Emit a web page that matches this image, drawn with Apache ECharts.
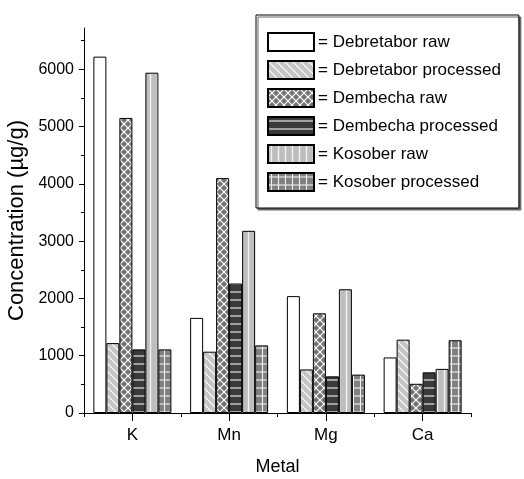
<!DOCTYPE html>
<html>
<head>
<meta charset="utf-8">
<script src="https://cdn.jsdelivr.net/npm/echarts@6/dist/echarts.min.js"></script>
<style>
html,body{margin:0;padding:0;background:#fff;}
#chart{width:524px;height:479px;}
</style>
</head>
<body>
<div id="chart"></div>
<script>
const categories = ['K', 'Mn', 'Mg', 'Ca'];
const seriesNames = ['Debretabor raw', 'Debretabor processed', 'Dembecha raw', 'Dembecha processed', 'Kosober raw', 'Kosober processed'];
const debretaborRaw = [6220, 1660, 2040, 970];
const debretaborProcessed = [1220, 1070, 760, 1280];
const dembechaRaw = [5150, 4100, 1740, 510];
const dembechaProcessed = [1110, 2260, 640, 710];
const kosoberRaw = [5940, 3180, 2160, 770];
const kosoberProcessed = [1110, 1180, 670, 1270];
const yMajorTicks = [0, 1000, 2000, 3000, 4000, 5000, 6000];
const yMinorTicks = [500, 1500, 2500, 3500, 4500, 5500, 6500];

const FONT = "'Liberation Sans',Arial,sans-serif";

function makePattern(w, h, bg, draw) {
  const c = document.createElement('canvas');
  c.width = w; c.height = h;
  const ctx = c.getContext('2d');
  ctx.fillStyle = bg;
  ctx.fillRect(0, 0, w, h);
  draw(ctx, w, h);
  return { image: c, repeat: 'repeat' };
}
function line(ctx, x1, y1, x2, y2, col, lw) {
  ctx.strokeStyle = col; ctx.lineWidth = lw;
  ctx.beginPath(); ctx.moveTo(x1, y1); ctx.lineTo(x2, y2); ctx.stroke();
}
const fills = [
  '#ffffff',
  makePattern(8, 8, '#c4c4c4', (ctx, s) => {
    for (let k = -1; k <= 1; k++) line(ctx, 0, k * s, s, s + k * s, '#f4f4f4', 1.4);
  }),
  makePattern(8, 8, '#747474', (ctx, s) => {
    for (let k = -1; k <= 1; k++) {
      line(ctx, 0, k * s, s, s + k * s, '#ffffff', 1.2);
      line(ctx, 0, s + k * s, s, k * s, '#ffffff', 1.2);
    }
  }),
  makePattern(8, 8, '#3a3a3a', (ctx, w, h) => {
    line(ctx, 0, 4, w, 4, '#e6e6e6', 1.2);
  }),
  makePattern(7, 8, '#bdbdbd', (ctx, w, h) => {
    line(ctx, 3.5, 0, 3.5, h, '#f2f2f2', 1.4);
  }),
  makePattern(7, 8, '#808080', (ctx, w, h) => {
    line(ctx, 0, 4, w, 4, '#eeeeee', 1.1);
    line(ctx, 3.5, 0, 3.5, h, '#eeeeee', 1.1);
  })
];
const values = [debretaborRaw, debretaborProcessed, dembechaRaw, dembechaProcessed, kosoberRaw, kosoberProcessed];

const series = seriesNames.map((name, i) => ({
  name: name,
  type: 'bar',
  xAxisIndex: 0,
  yAxisIndex: 0,
  data: values[i],
  barWidth: 13,
  barGap: '0%',
  itemStyle: { color: fills[i], borderColor: '#000', borderWidth: 1 },
  emphasis: { disabled: true },
  animation: false
}));

const chart = echarts.init(document.getElementById('chart'), null, { renderer: 'canvas' });
chart.setOption({
  animation: false,
  backgroundColor: '#fff',
  grid: { left: 84, right: 53, top: 28, bottom: 66, containLabel: false, outerBoundsMode: 'none' },
  legend: {
    orient: 'vertical',
    left: 256,
    top: 15,
    padding: [17, 18, 16, 11],
    itemWidth: 46,
    itemHeight: 18,
    itemGap: 8,
    icon: 'rect',
    formatter: '= {name}',
    textStyle: { fontFamily: FONT, fontSize: 17, color: '#000', padding: [0, 0, 0, -1] },
    backgroundColor: '#fff',
    borderColor: '#000',
    borderWidth: 1,
    shadowColor: '#666',
    shadowOffsetX: 2,
    shadowOffsetY: 2,
    shadowBlur: 0,
    selectedMode: false,
    data: seriesNames
  },
  xAxis: [
    {
      type: 'category',
      data: categories,
      position: 'bottom',
      boundaryGap: true,
      axisLine: { show: true, lineStyle: { color: '#000', width: 1 } },
      axisTick: { show: true, alignWithLabel: true, length: 8, lineStyle: { color: '#000' } },
      axisLabel: { fontFamily: FONT, fontSize: 17, color: '#000', margin: 14 },
      name: 'Metal',
      nameLocation: 'middle',
      nameGap: 45,
      nameTextStyle: { fontFamily: FONT, fontSize: 18, color: '#000' },
      splitLine: { show: false }
    },
    {
      type: 'category',
      data: categories,
      position: 'bottom',
      boundaryGap: true,
      axisLine: { show: false },
      axisTick: { show: true, length: 4, lineStyle: { color: '#000' } },
      axisLabel: { show: false },
      splitLine: { show: false }
    }
  ],
  yAxis: [
    {
      type: 'value',
      position: 'left',
      min: 0,
      max: 6720,
      interval: 1000,
      axisLine: { show: true, lineStyle: { color: '#000', width: 1 } },
      axisTick: { show: true, length: 5, customValues: yMajorTicks, lineStyle: { color: '#000' } },
      axisLabel: { fontFamily: FONT, fontSize: 16, color: '#000', margin: 10, customValues: yMajorTicks, formatter: v => String(v) },
      splitLine: { show: false },
      name: 'Concentration (\u00b5g/g)',
      nameLocation: 'middle',
      nameGap: 50,
      nameTextStyle: { fontFamily: FONT, fontSize: 22, color: '#000' }
    },
    {
      type: 'value',
      position: 'left',
      min: 0,
      max: 6720,
      interval: 500,
      axisLine: { show: false },
      axisTick: { show: true, length: 3, customValues: yMinorTicks, lineStyle: { color: '#000' } },
      axisLabel: { show: false },
      splitLine: { show: false }
    }
  ],
  series: series
});
</script>
</body>
</html>
